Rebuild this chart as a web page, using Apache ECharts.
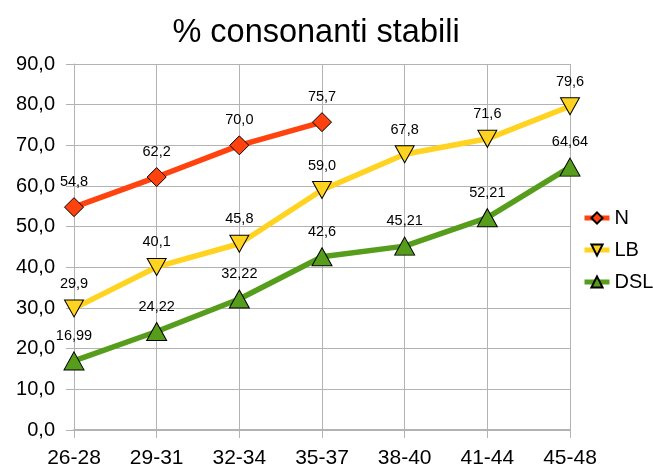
<!DOCTYPE html>
<html><head><meta charset="utf-8">
<script src="https://cdn.jsdelivr.net/npm/echarts@6/dist/echarts.min.js"></script>
<style>html,body{margin:0;padding:0;background:#fff}#c{width:653px;height:472px}</style>
</head><body><div id="c"></div>
<script>
const categories = ['26-28','29-31','32-34','35-37','38-40','41-44','45-48'];
const seriesN = [54.8, 62.2, 70.0, 75.7, null, null, null];
const seriesLB = [29.9, 40.1, 45.8, 59.0, 67.8, 71.6, 79.6];
const seriesDSL = [16.99, 24.22, 32.22, 42.6, 45.21, 52.21, 64.64];
const yTicks = [0,10,20,30,40,50,60,70,80,90];

const FONT = '"Liberation Sans", Arial, sans-serif';
const comma1 = v => v.toFixed(1).replace('.', ',');
const commaRaw = v => String(v).replace('.', ',');

function mk(name, data, color, symbol, size, rotate, fmt) {
  return {
    name, type: 'line', data, color,
    symbol, symbolSize: size, symbolRotate: rotate,
    connectNulls: false,
    lineStyle: { width: 5.5, color },
    itemStyle: { color, borderColor: '#000', borderWidth: 1 },
    label: { show: true, position: 'top', distance: 8, fontFamily: FONT, fontSize: 14.5, color: '#000',
      formatter: p => p.value == null ? '' : fmt(p.value) },
    emphasis: { disabled: true },
    animation: false
  };
}

const chart = echarts.init(document.getElementById('c'));
chart.setOption({
  animation: false,
  title: { text: '% consonanti stabili', left: 311, textAlign: 'center', top: 12,
    textStyle: { fontFamily: FONT, fontSize: 32.5, fontWeight: 'normal', color: '#000' } },
  grid: { left: 74, right: 83, top: 64, bottom: 42, containLabel: false },
  legend: {
    orient: 'vertical', left: 577, top: 203, itemGap: 12, itemWidth: 25, itemHeight: 14,
    lineStyle: { width: 5 },
    textStyle: { fontFamily: FONT, fontSize: 20, color: '#000', lineHeight: 20 },
    data: ['N', 'LB', 'DSL']
  },
  xAxis: {
    type: 'category', data: categories, boundaryGap: false,
    axisLine: { lineStyle: { color: '#b3b3b3', width: 2 } },
    axisTick: { show: true, length: 8, lineStyle: { color: '#b3b3b3' } },
    splitLine: { show: true, lineStyle: { color: '#b3b3b3', width: 1 } },
    axisLabel: { fontFamily: FONT, fontSize: 21, color: '#000', margin: 18 }
  },
  yAxis: {
    type: 'value', min: 0, max: 90, interval: 10,
    axisLine: { show: true, lineStyle: { color: '#b3b3b3' } },
    axisTick: { show: true, length: 8, lineStyle: { color: '#b3b3b3' } },
    splitLine: { show: true, lineStyle: { color: '#b3b3b3', width: 1 } },
    axisLabel: { fontFamily: FONT, fontSize: 20, color: '#000', margin: 19,
      formatter: v => yTicks.includes(v) ? comma1(v) : '' }
  },
  series: [
    mk('N', seriesN, '#ff420e', 'diamond', [19, 19], 0, comma1),
    mk('LB', seriesLB, '#ffd320', 'triangle', [19, 17], 180, comma1),
    mk('DSL', seriesDSL, '#579d1c', 'triangle', [20, 18], 0, commaRaw)
  ]
});
</script></body></html>
